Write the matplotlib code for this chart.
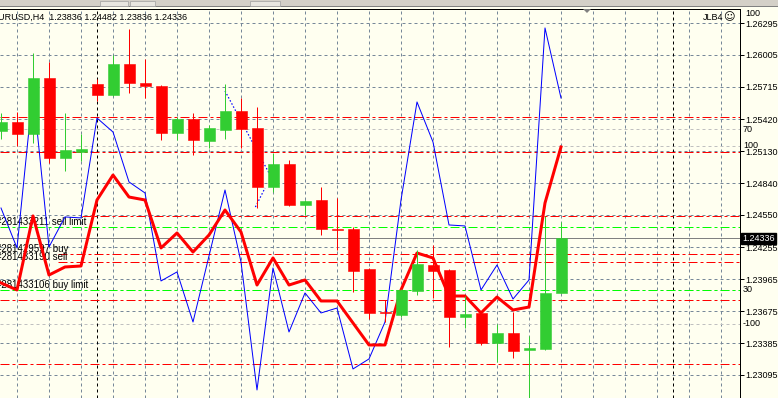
"""MT4-style EURUSD,H4 chart: candles, two indicator lines and order levels."""

import matplotlib

matplotlib.use("Agg")

import matplotlib.pyplot as plt  # noqa: E402
import matplotlib.transforms as mtransforms  # noqa: E402
from matplotlib.patches import Polygon, Rectangle  # noqa: E402

W, H = 778, 398
BG = "#fffff0"
BULL = "#32cd32"
BEAR = "#ff0000"
GRID = "#778899"
FONT = ["Liberation Sans", "DejaVu Sans"]

# --- data -------------------------------------------------------------------
opens = [1.25313, 1.25395, 1.25286, 1.25795, 1.25068, 1.25122, 1.25740, 1.25641,
         1.25922, 1.25750, 1.25722, 1.25295, 1.25422, 1.25222, 1.25322, 1.25495,
         1.25341, 1.24804, 1.25013, 1.24641, 1.24686, 1.24422, 1.24422, 1.24059,
         1.23668, 1.23641, 1.23859, 1.24095, 1.24050, 1.23623, 1.23659, 1.23386,
         1.23477, 1.23323, 1.23332, 1.23836]
highs = [1.25477, 1.25486, 1.26022, 1.25940, 1.25477, 1.25286, 1.25786, 1.26004,
         1.26240, 1.25968, 1.25731, 1.25440, 1.25477, 1.25368, 1.25740, 1.25613,
         1.25531, 1.25113, 1.25050, 1.24686, 1.24804, 1.24704, 1.24441, 1.24068,
         1.23777, 1.23877, 1.24232, 1.24277, 1.24059, 1.23813, 1.23668, 1.23559,
         1.23668, 1.23450, 1.24541, 1.24482]
lows = [1.25240, 1.25177, 1.25204, 1.25022, 1.24950, 1.25041, 1.25586, 1.25631,
        1.25659, 1.25613, 1.25231, 1.25231, 1.25095, 1.25159, 1.25240, 1.25159,
        1.24613, 1.24759, 1.24632, 1.24550, 1.24368, 1.24232, 1.23850, 1.23604,
        1.23577, 1.23623, 1.23823, 1.23795, 1.23350, 1.23523, 1.23368, 1.23213,
        1.23250, 1.22823, 1.23323, 1.23836]
closes = [1.25395, 1.25286, 1.25795, 1.25068, 1.25141, 1.25150, 1.25641, 1.25922,
          1.25750, 1.25722, 1.25295, 1.25422, 1.25231, 1.25341, 1.25495, 1.25331,
          1.24804, 1.25013, 1.24641, 1.24677, 1.24422, 1.24413, 1.24041, 1.23659,
          1.23659, 1.23868, 1.24104, 1.24041, 1.23623, 1.23650, 1.23386, 1.23477,
          1.23313, 1.23341, 1.23836, 1.24336]

blue_line = [1.24613, 1.24250, 1.25686, 1.24259, 1.24532, 1.24523, 1.25431, 1.25304,
             1.24850, 1.24750, 1.23950, 1.24032, 1.23577, 1.24177, 1.24777, 1.24122,
             1.22959, 1.24068, 1.23486, 1.23841, 1.23659, 1.23704, 1.23150, 1.23241,
             1.23577, 1.24686, 1.25577, 1.25213, 1.24459, 1.24450, 1.23868, 1.24095,
             1.23786, 1.23959, 1.26250, 1.25613]
red_line = [1.23932, 1.23868, 1.24541, 1.24004, 1.24077, 1.24086, 1.24686, 1.24913,
            1.24713, 1.24686, 1.24250, 1.24386, 1.24213, 1.24368, 1.24595, 1.24395,
            1.23913, 1.24159, 1.23913, 1.23959, 1.23768, 1.23768, 1.23568, 1.23368,
            1.23368, 1.23868, 1.24204, 1.24159, 1.23813, 1.23813, 1.23659, 1.23804,
            1.23686, 1.23713, 1.24659, 1.25168]

dotted_a_x = [14, 16.75]
dotted_a_y = [1.25677, 1.24931]
dotted_b_x = [15.9, 16.5]
dotted_b_y = [1.24622, 1.24795]

price_ticks = [1.26295, 1.26005, 1.25715, 1.25420, 1.25130, 1.24840,
               1.24550, 1.24255, 1.23965, 1.23675, 1.23385, 1.23095]
price_labels = ["1.26295", "1.26005", "1.25715", "1.25420", "1.25130", "1.24840",
                "1.24550", "1.24255", "1.23965", "1.23675", "1.23385", "1.23095"]

red_levels = [1.25440, 1.25122, 1.24541, 1.24195, 1.24122, 1.23777, 1.23195]
red_level_start = [0, 0, 82, 58, 58, 0, 0]  # pixel where the line starts
green_levels = [1.24441, 1.23868]

order_labels = ["#281433211 sell limit", "#281429597 buy",
                "#281433190 sell", "#281433106 buy limit"]
order_prices = [1.24441, 1.24195, 1.24122, 1.23868]

osc_levels = [1.25331, 1.25177, 1.23868, 1.23559]
osc_labels = ["70", "100", "30", "-100"]

bid = 1.24336
header = "EURUSD,H4  1.23836 1.24482 1.23836 1.24336"
separators = [6, 42]

# pixel <-> price scale of the screenshot
Y_TOP_PRICE = 1.26295 + 14 * 0.032 / 352
Y_BOT_PRICE = 1.26295 - 375 * 0.032 / 352


def pt(px):
    return px * 72 / 100


def fpos(x, y):
    return x / W, 1 - y / H


plt.rcParams["lines.scale_dashes"] = False
plt.rcParams["font.family"] = FONT

fig = plt.figure(figsize=(W / 100, H / 100), dpi=100, facecolor=BG)
ax = fig.add_axes([0, 0, 740 / W, 389 / H])
ax.set_facecolor(BG)
ax.set_xlim(-1 / 16, 739 / 16)
ax.set_ylim(Y_BOT_PRICE, Y_TOP_PRICE)

for side in ("left", "bottom"):
    ax.spines[side].set_visible(False)
for side in ("top", "right"):
    ax.spines[side].set_color("black")
    ax.spines[side].set_linewidth(pt(1))

ax.set_xticks([])
ax.yaxis.tick_right()
ax.set_yticks(price_ticks, price_labels)
ax.tick_params(axis="y", direction="out", length=pt(4), width=pt(1), pad=1,
               labelsize=6.5, colors="black")

grid_dash = (0, (pt(3), pt(3)))
dashdot = (0, (pt(9), pt(3), pt(3), pt(3)))

# grid
for xb in range(1, 46, 2):
    ax.axvline(xb, color=GRID, lw=pt(1), ls=grid_dash, zorder=1)
for p in price_ticks:
    ax.axhline(p, color=GRID, lw=pt(1), ls=grid_dash, zorder=1)
for p in osc_levels:
    ax.axhline(p, color="#c0c0c0", lw=pt(1), ls=grid_dash, zorder=1.1)
for xb in separators:
    ax.axvline(xb, color="black", lw=pt(1), ls=grid_dash, zorder=1.2)

# order levels
for p, start in zip(red_levels, red_level_start):
    ax.axhline(p, xmin=start / 740, color=BEAR, lw=pt(1), ls=dashdot, zorder=1.5)
for p in green_levels:
    ax.axhline(p, color="#00ff00", lw=pt(1), ls=dashdot, zorder=1.5)
ax.axhline(bid, color="#808080", lw=pt(1), zorder=1.4)

for label, p in zip(order_labels, order_prices):
    ax.text(-5 / 16, p, label, fontsize=7, va="bottom", ha="left", zorder=2)

# indicators
xs = list(range(len(closes)))
ax.plot(xs, blue_line, color="#0000ff", lw=pt(1), zorder=3)
ax.plot(xs, red_line, color=BEAR, lw=pt(3), zorder=3.5, solid_joinstyle="round")
ax.plot(dotted_a_x, dotted_a_y, color="#0000ff", lw=pt(1.2), ls=(0, (pt(1.5), pt(2))), zorder=3)
ax.plot(dotted_b_x, dotted_b_y, color="#0000ff", lw=pt(1.2), ls=(0, (pt(1.5), pt(2))), zorder=3)

# candles
colors = [BULL if c >= o else BEAR for o, c in zip(opens, closes)]
ax.vlines(xs, lows, highs, colors=colors, lw=pt(1), zorder=5)
ax.bar(xs, [c - o for o, c in zip(opens, closes)], bottom=opens, width=11 / 16,
       color=colors, edgecolor=colors, lw=0.4, zorder=6)

# right-hand labels
trans = mtransforms.blended_transform_factory(ax.transAxes, ax.transData)
ax.text(1.003, bid, "1.24336", transform=trans, color="white", fontsize=6.5,
        va="center", ha="left", zorder=10, clip_on=False,
        bbox=dict(boxstyle="square,pad=0.15", fc="black", ec="black"))
for label, p in zip(osc_labels, osc_levels):
    ax.text(1.004, p, label, transform=trans, fontsize=6.5, va="center",
            ha="left", zorder=9, clip_on=False)
fig.text(*fpos(745, 14), "100", fontsize=6.5, va="center", ha="left")

# header texts
fig.text(*fpos(-8, 17), header, fontsize=6.5, va="center", ha="left")
fig.text(*fpos(703, 17), "JLB4", fontsize=6.5, va="center", ha="left")
fig.text(*fpos(723, 17), "\u263a", fontsize=8, va="center", ha="left",
         family=["DejaVu Sans"])

# toolbar strip at the top
fig.patches.append(Rectangle(fpos(0, 7), 1, 7 / H, transform=fig.transFigure,
                             fc="#d4d0c8", ec="none", zorder=0))
fig.patches.append(Rectangle(fpos(0, 7), 1, 1 / H, transform=fig.transFigure,
                             fc="#808080", ec="none", zorder=0))
for x0, x1 in [(100, 128), (130, 155), (250, 280)]:
    fig.patches.append(Rectangle(fpos(x0, 6), (x1 - x0) / W, 5 / H,
                                 transform=fig.transFigure, fc="#e8e6e0",
                                 ec="#a0a0a0", lw=0.5, zorder=1))
fig.patches.append(Polygon([fpos(583, 9), fpos(591, 9), fpos(587, 13)],
                           transform=fig.transFigure, fc="#808080", ec="none",
                           zorder=1))

fig.savefig("out.png", dpi=100, facecolor=BG)
